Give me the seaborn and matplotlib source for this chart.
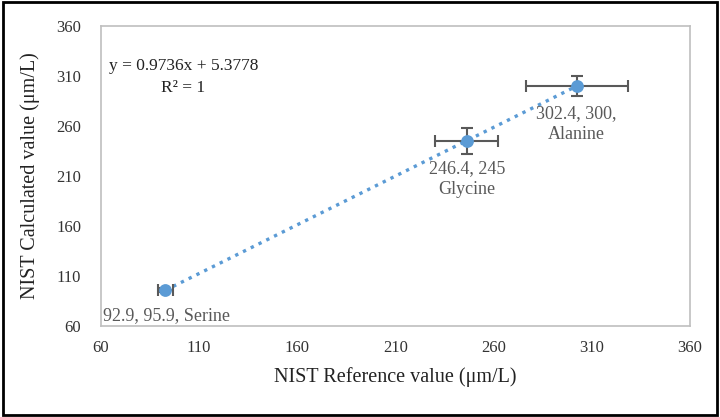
import numpy as np
import pandas as pd
import matplotlib
matplotlib.use('Agg')
import matplotlib.pyplot as plt
import seaborn as sns
from matplotlib.patches import Rectangle

# Data
amino_acids = ['Serine', 'Glycine', 'Alanine']
reference = [92.9, 246.4, 302.4]
calculated = [95.9, 245, 300]
x_err = [4, 16, 26]
y_err = [2, 13, 10]
point_labels = ['92.9, 95.9, Serine', '246.4, 245\nGlycine', '302.4, 300,\nAlanine']

ticks = [60, 110, 160, 210, 260, 310, 360]

df = pd.DataFrame({'Amino acid': amino_acids, 'Reference': reference, 'Calculated': calculated})

sns.set_style('white')
plt.rcParams['font.family'] = ['Liberation Serif', 'DejaVu Serif']

fig = plt.figure(figsize=(7.2, 4.17), dpi=100)
ax = fig.add_axes([0.140, 0.218, 0.818, 0.720])

blue = '#5B9BD5'
grey = '#595959'

# Linear trendline
sns.regplot(data=df, x='Reference', y='Calculated', ax=ax, scatter=False, ci=None,
            truncate=True, color=blue,
            line_kws={'linestyle': (0, (1, 1.6)), 'linewidth': 2.4})

ax.errorbar(reference, calculated, xerr=x_err, yerr=y_err, fmt='none',
            ecolor=grey, elinewidth=1.5, capsize=4, capthick=1.5, zorder=3)

sns.scatterplot(data=df, x='Reference', y='Calculated', ax=ax, color=blue,
                s=85, edgecolor=blue, linewidth=0, zorder=4)

# Point labels
offsets = [(-62, -17), (0, -19), (0, -19)]
aligns = ['left', 'center', 'center']
for xv, yv, lab, off, ha in zip(reference, calculated, point_labels, offsets, aligns):
    ax.annotate(lab, (xv, yv), xytext=off, textcoords='offset pixels',
                ha=ha, va='top', fontsize=13, color=grey, linespacing=1.35)

ax.text(102, 320, 'y = 0.9736x + 5.3778', ha='center', va='center', fontsize=12.5, color='#222222')
ax.text(102, 298, 'R² = 1', ha='center', va='center', fontsize=12.5, color='#222222')

ax.set_xlim(60, 360)
ax.set_ylim(60, 360)
ax.set_xticks(ticks)
ax.set_yticks(ticks)
ax.tick_params(axis='both', labelsize=12, colors='#333333', length=0)
ax.tick_params(axis='y', pad=14)
ax.tick_params(axis='x', pad=10)

ax.set_xlabel('NIST Reference value (μm/L)', fontsize=14.5, color='#222222', labelpad=8)
ax.set_ylabel('NIST Calculated value (μm/L)', fontsize=14.5, color='#222222', labelpad=12)

for sp in ax.spines.values():
    sp.set_color('#BFBFBF')
    sp.set_linewidth(1.2)

# Outer frame
fig.patches.append(Rectangle((0.004, 0.005), 0.992, 0.99, transform=fig.transFigure,
                             fill=False, edgecolor='black', linewidth=2))

fig.savefig('out.png', dpi=100)
